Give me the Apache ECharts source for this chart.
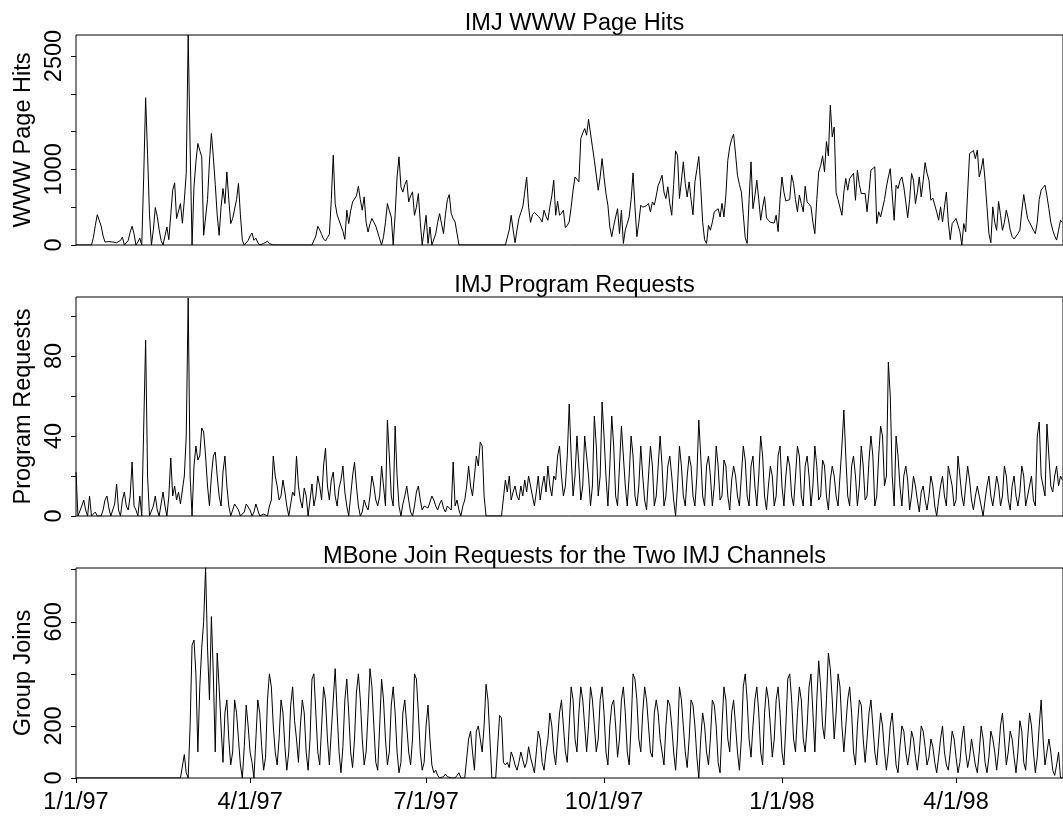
<!DOCTYPE html>
<html><head><meta charset="utf-8">
<script src="https://cdn.jsdelivr.net/npm/echarts@6/dist/echarts.min.js"></script>
<style>html,body{margin:0;padding:0;background:#fff}#c{width:1063px;height:818px}</style>
</head><body><div id="c"></div>
<script>
// Days since 1/1/97 (one value per day)
const pageHits = [
0,0,0,0,0,0,0,0,0,100,260,400,420,250,120,40,30,45,25,40,
50,30,20,60,106,0,0,60,170,248,150,0,40,90,0,900,1948,1200,400,0,
200,495,380,200,60,0,120,238,70,400,725,822,350,330,548,288,592,950,2778,1298,
0,768,1100,1343,1250,1166,128,128,600,1100,1476,1166,800,400,128,500,747,548,967,600,
283,350,371,600,813,400,62,0,0,60,120,159,62,90,30,0,0,20,30,50,
20,0,0,0,0,0,0,0,0,0,0,0,0,0,0,0,0,0,0,0,
0,0,0,0,120,248,200,140,80,53,100,142,600,1188,548,400,327,305,180,75,
460,283,450,570,592,650,777,600,460,636,300,172,280,350,300,250,238,80,0,110,
300,548,450,371,0,400,900,1166,768,700,800,857,570,650,703,393,500,680,300,0,
200,393,20,238,0,0,150,300,415,280,150,400,600,667,415,350,305,330,0,0,
0,0,0,0,0,0,0,0,0,0,0,0,0,0,0,0,0,0,0,0,
0,0,0,0,200,393,200,30,200,350,430,505,700,900,500,300,400,430,420,380,
350,305,460,380,327,505,650,857,393,580,393,420,460,230,260,305,500,725,900,924,
836,1410,1480,1541,1452,1661,1652,1300,1122,1122,725,900,1143,900,680,527,238,110,250,371,
480,150,460,20,200,283,371,600,954,500,110,300,527,500,482,520,548,437,570,527,
650,790,850,924,700,614,770,550,393,800,1245,1188,614,850,1100,813,636,835,600,400,
835,1000,1170,768,300,70,20,261,195,300,437,460,480,370,550,370,660,1120,1300,1400,
1466,1200,924,800,700,400,100,20,600,1100,480,650,857,600,327,500,640,358,327,300,
305,291,393,177,600,900,700,583,583,600,924,813,600,440,660,548,440,777,570,540,
505,300,150,600,967,1050,1180,967,1370,1180,1851,1431,1560,690,600,592,393,700,880,725,
880,900,947,592,990,800,680,680,680,440,700,990,1000,1034,283,440,371,393,600,768,
900,1010,990,327,790,747,850,900,768,570,360,600,947,857,548,700,900,636,850,1090,
950,857,592,620,636,437,327,505,305,500,700,305,70,283,300,350,371,175,0,283,
175,700,1210,1230,1250,1143,1255,900,1000,1145,857,500,150,30,505,300,195,577,393,195,
300,460,350,200,110,80,65,150,195,450,667,500,350,300,250,195,150,300,600,725,
760,790,650,480,300,195,120,65,195,327,300
];
const programRequests = [
22,0,0,5,8,3,0,10,0,0, 2,0,0,0,3,8,10,4,0,0, 6,16,3,0,8,12,5,3,10,27, 5,3,0,10,0,0,88,20,0,0,
5,10,3,0,6,12,5,0,10,29, 10,15,8,12,6,5,20,40,109,20, 0,25,35,28,30,44,42,30,15,5, 20,30,32,20,10,5,22,30,15,5,
0,3,6,5,3,0,0,2,6,5, 3,0,2,6,3,0,0,1,2,0, 5,8,30,20,15,8,10,18,12,5, 0,6,12,10,30,15,8,4,14,10,
0,8,16,5,10,20,15,8,25,34, 15,8,18,22,10,5,14,18,25,12, 5,0,10,20,27,15,5,0,2,8, 5,3,10,20,15,8,5,10,25,15,
5,48,30,10,5,45,20,5,0,6, 10,15,8,2,0,5,12,15,8,3, 5,6,4,3,10,8,5,3,6,8, 4,2,5,6,3,27,5,8,3,0,
5,8,15,25,15,10,20,30,25,37, 35,10,0,0,0,0,0,0,0,0, 0,0,18,12,20,8,12,15,10,8, 15,10,18,12,20,15,10,5,12,20,
8,15,20,12,25,15,10,20,18,30, 35,20,10,15,30,56,30,10,20,40, 25,8,15,40,30,20,5,15,50,35, 10,20,57,40,20,5,25,50,35,10,
5,25,45,30,15,5,20,40,30,10, 5,15,35,20,8,3,20,35,25,5, 10,25,40,25,5,10,25,30,20,8, 0,15,35,25,10,5,20,30,25,10,
5,20,48,30,10,5,25,30,20,5, 15,35,25,8,10,28,25,10,3,18, 25,20,10,5,20,35,28,10,5,25, 30,15,5,20,40,30,10,3,15,25,
20,5,10,30,35,15,5,20,30,25, 10,5,20,35,30,10,5,25,30,20, 5,15,35,25,8,10,28,25,10,3, 18,25,20,10,5,20,35,53,30,10,
5,25,30,20,5,15,35,25,8,10, 28,40,30,5,10,30,45,40,15,20, 77,60,20,5,40,30,15,5,20,25, 18,3,10,20,15,8,2,12,15,8,
3,10,20,15,5,0,8,15,20,10, 5,25,20,15,5,8,30,20,10,5, 15,25,18,8,3,10,15,10,5,0, 8,15,20,10,5,12,20,15,5,10,
25,20,8,3,15,20,10,5,12,25, 20,5,10,15,20,8,5,40,47,20, 15,10,46,30,15,12,20,25,15,20, 18
];
const groupJoins = [
0,0,0,0,0,0,0,0,0,0, 0,0,0,0,0,0,0,0,0,0, 0,0,0,0,0,0,0,0,0,0, 0,0,0,0,0,0,0,0,0,0,
0,0,0,0,0,0,0,0,0,0, 0,0,0,0,0,0,90,20,0,200, 510,530,400,100,350,500,600,808,500,300, 620,400,100,480,350,200,60,250,300,150,
50,100,300,250,150,50,0,120,280,200, 100,60,0,150,300,250,120,30,80,300, 400,350,200,100,50,150,300,250,120,30, 100,280,350,220,150,60,200,300,250,100,
30,150,380,400,250,100,50,200,350,300, 150,50,180,300,420,250,100,20,120,300, 380,250,100,40,150,330,400,300,150,50, 100,250,420,350,200,60,30,200,380,300,
150,50,100,280,350,250,100,20,60,250, 300,200,100,50,150,400,380,250,100,30, 60,200,280,150,50,20,30,10,0,0, 5,15,5,0,0,0,0,10,20,0,
0,0,5,150,180,100,30,180,200,150, 100,200,360,300,150,0,0,0,0,240, 230,60,50,60,40,100,80,50,30,60, 100,70,40,60,120,80,50,20,100,180,
150,60,30,100,150,250,200,100,50,150, 250,300,200,100,60,200,350,300,150,100, 250,350,300,200,100,200,350,300,200,100, 150,300,350,250,100,50,200,280,300,200,
80,150,300,350,250,100,50,200,400,380, 300,150,100,250,350,300,200,100,80,250, 300,250,150,100,50,200,300,280,200,100, 30,150,350,300,200,100,40,150,300,280,
200,80,0,150,250,200,100,50,150,300, 280,200,60,20,200,350,300,150,100,250, 300,200,100,30,150,350,400,300,150,80, 200,300,350,250,100,50,250,350,300,200,
80,150,300,350,250,100,50,200,380,400, 300,150,100,250,350,300,150,100,200,350, 400,250,100,300,450,350,200,150,300,480, 420,300,150,250,400,350,200,100,200,300,
350,250,100,50,200,300,280,150,60,150, 250,300,200,100,50,150,250,200,100,30, 100,200,250,150,50,20,120,200,180,100, 50,100,180,150,80,30,100,200,180,120,
50,80,150,120,60,20,80,150,200,100, 50,30,100,180,150,80,20,60,150,200, 100,40,80,150,100,50,20,100,200,150, 60,20,80,180,150,100,30,100,200,250,
150,50,100,180,150,80,20,100,220,180, 60,30,150,250,200,100,20,80,200,300, 150,50,100,150,100,30,10,50,100,0, 0
];
const dateTickDays = [0, 90, 181, 273, 365, 455];
const dateTickLabels = ['1/1/97', '4/1/97', '7/1/97', '10/1/97', '1/1/98', '4/1/98'];
const hitsTicks = [0, 500, 1000, 1500, 2000, 2500];
const hitsLabels = [0, 1000, 2500];
const reqTicks = [0, 20, 40, 60, 80, 100];
const reqLabels = [0, 40, 80];
const joinTicks = [0, 200, 400, 600, 800];
const joinLabels = [0, 200, 600];
const titles = ['IMJ WWW Page Hits', 'IMJ Program Requests', 'MBone Join Requests for the Two IMJ Channels'];
const yNames = ['WWW Page Hits', 'Program Requests', 'Group Joins'];
const yMax = [2778, 109.5, 806.6];
const xMax = 510.3;

const FONT = 'Liberation Sans, Arial, Helvetica, sans-serif';
const FS = 23.5;
const pair = arr => arr.map((v, i) => [i, v]);

const grids = [
  {left: 76, top: 35, width: 989, height: 210},
  {left: 76, top: 297, width: 989, height: 219},
  {left: 76, top: 568, width: 989, height: 210}
].map(g => Object.assign(g, {show: true, borderColor: '#000', borderWidth: 1, backgroundColor: 'transparent'}));

function xAx(i, show) {
  return {
    type: 'value', gridIndex: i, min: 0, max: xMax,
    axisLine: {show: false}, splitLine: {show: false},
    axisTick: show ? {show: true, customValues: dateTickDays, length: 5, inside: false, lineStyle: {color: '#000', width: 1}} : {show: false},
    axisLabel: show ? {show: true, customValues: dateTickDays, margin: 13, fontSize: FS, fontFamily: FONT, color: '#000',
      formatter: v => dateTickLabels[dateTickDays.indexOf(Math.round(v))] || ''} : {show: false}
  };
}
function yAx(i, ticks, labels) {
  return {
    type: 'value', gridIndex: i, min: 0, max: yMax[i],
    name: yNames[i], nameLocation: 'middle', nameGap: 40, nameRotate: 90,
    nameTextStyle: {fontSize: FS, fontFamily: FONT, color: '#000'},
    axisLine: {show: false}, splitLine: {show: false},
    axisTick: {show: true, customValues: ticks, length: 5, lineStyle: {color: '#000', width: 1}},
    axisLabel: {show: true, customValues: labels, rotate: 90, margin: 9, fontSize: FS, fontFamily: FONT, color: '#000',
      formatter: v => String(v)}
  };
}

const chart = echarts.init(document.getElementById('c'), null, {renderer: 'canvas'});
chart.setOption({
  animation: false,
  backgroundColor: '#fff',
  title: titles.map((t, i) => ({
    text: t, left: 569.5, textAlign: 'center', top: [7, 269, 540][i],
    textStyle: {fontSize: FS, fontWeight: 'normal', fontFamily: FONT, color: '#000'}
  })),
  grid: grids,
  xAxis: [xAx(0, false), xAx(1, false), xAx(2, true)],
  yAxis: [yAx(0, hitsTicks, hitsLabels), yAx(1, reqTicks, reqLabels), yAx(2, joinTicks, joinLabels)],
  series: [pageHits, programRequests, groupJoins].map((d, i) => ({
    type: 'line', xAxisIndex: i, yAxisIndex: i, data: pair(d),
    showSymbol: false, symbol: 'none', lineStyle: {color: '#000', width: 1}, clip: true
  }))
});
</script></body></html>
